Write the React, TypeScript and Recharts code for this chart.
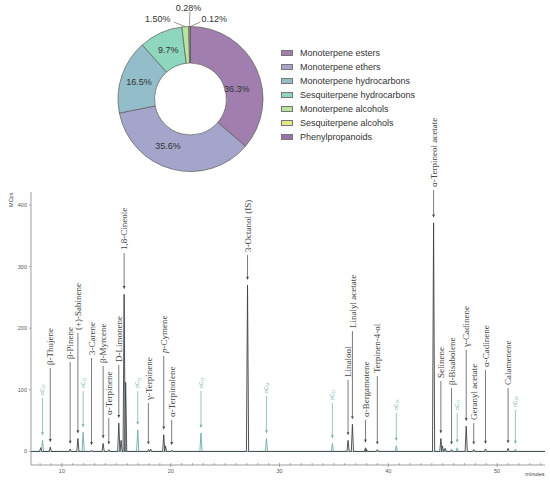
import React from 'react';
import { Cell, Legend, Line, LineChart, Pie, PieChart, ReferenceDot, XAxis, YAxis } from 'recharts';

document.body.style.margin = '0';

// compound classes (donut)
const classNames = [
  'Monoterpene esters',
  'Monoterpene ethers',
  'Monoterpene hydrocarbons',
  'Sesquiterpene hydrocarbons',
  'Monoterpene alcohols',
  'Sesquiterpene alcohols',
  'Phenylpropanoids',
];
const classShares = [36.3, 35.6, 16.5, 9.7, 1.5, 0.28, 0.12];
const classLabels = ['36.3%', '35.6%', '16.5%', '9.7%', '1.50%', '0.28%', '0.12%'];
const classColors = ['#a07fae', '#a5a5cc', '#94bdca', '#8ed6bd', '#b8e4a2', '#e4e68c', '#9a72a7'];

// chromatogram peaks (minutes, MCps)
const compoundNames = [
  'β-Thujene', 'β-Pinene', '(+)-Sabinene', '3-Carene', 'β-Myrcene', 'α-Terpinene', 'D-Limonene',
  '1,8-Cineole', 'γ-Terpinene', 'p-Cymene', 'α-Terpinolene', '3-Octanol (IS)', 'Linalool',
  'Linalyl acetate', 'α-Bergamotene', 'Terpinen-4-ol', 'α-Terpineol acetate', 'Selinene',
  'β-Bisabolene', 'γ-Cadinene', 'Geranyl acetate', 'α-Cadinene', 'Calamenene',
];
const compoundTimes = [
  8.93, 10.76, 11.47, 12.72, 13.79, 14.31, 15.23, 15.72, 17.95, 19.36, 20.09, 27.06, 36.3,
  36.7, 37.9, 38.99, 44.16, 44.83, 45.81, 47.16, 47.85, 48.93, 51.01,
];
const compoundHeights = [
  7, 4, 21, 2, 13, 3, 46, 255, 3, 27, 2, 270, 18, 44, 6, 3, 371, 21, 3, 41, 3, 4, 5,
];
const alkaneNames = ['nC10', 'nC11', 'nC12', 'nC13', 'nC14', 'nC15', 'nC16', 'nC17', 'nC18'];
const alkaneTimes = [8.22, 11.95, 16.97, 22.78, 28.8, 34.86, 40.73, 46.33, 51.68];
const alkaneHeights = [18, 31, 35, 30, 21, 13, 9, 6, 4];
const minorTimes = [8.05, 15.44, 15.86, 18.15, 19.52, 44.98, 45.22, 37.98];
const minorHeights = [6, 18, 112, 4, 9, 9, 5, 4];

const timeSpan = [7.16, 54.4];
const signalSpan = [-22, 421];
const signalTicks = [0, 100, 200, 300, 400];
const minuteMarks = Array.from({ length: 47 }, (_, i) => i + 8);

// layout
const chartTop = 110;
const halfWidth = 0.1;
const compoundLabelBase = [
  365, 359, 330, 355, 363, 415, 362, 250, 400, 353, 417, 252, 377, 328, 417, 373, 187, 378, 385,
  347, 420, 367, 385,
];
const alkaneLabelBase = [395, 388, 388, 388, 393, 400, 410, 410, 407];
const sliceNudge = [[-3, 12.6], [-8.7, -5], [0, 0], [0, 0]];
const callouts = [
  [-11, -4.5, -27.4, -7.5],
  [0.6, -14.5, -0.8, -19],
  [9.8, -4.3, 24, -7.2],
];

const RAD = Math.PI / 180;
const ink = '#444';
const teal = '#6aaea9';

const pieData = classNames.map((name, i) => ({ name, value: classShares[i] }));

const buildTrace = (times: number[], heights: number[]) => {
  const order = times.map((_, i) => i).sort((a, b) => times[a] - times[b]);
  const pts = [{ t: timeSpan[0], v: 0 }];
  order.forEach((i) => {
    pts.push({ t: times[i] - halfWidth, v: 0 }, { t: times[i], v: heights[i] }, { t: times[i] + halfWidth, v: 0 });
  });
  pts.push({ t: timeSpan[1], v: 0 });
  return pts;
};

const compoundTrace = buildTrace([...compoundTimes, ...minorTimes], [...compoundHeights, ...minorHeights]);
const alkaneTrace = buildTrace(alkaneTimes, alkaneHeights);

const renderSliceLabel = (p: any) => {
  const { cx, cy, midAngle, innerRadius, outerRadius, index } = p;
  const text = classLabels[index];
  const style = { fontSize: 9, fill: '#333', fontWeight: 400, fontFamily: 'Liberation Sans, Arial' };
  if (index < 4) {
    const r = (innerRadius + outerRadius) / 2;
    const x = cx + r * Math.cos(-midAngle * RAD) + sliceNudge[index][0];
    const y = cy + r * Math.sin(-midAngle * RAD) + sliceNudge[index][1];
    return (
      <text x={x} y={y} textAnchor="middle" dominantBaseline="central" stroke="none" {...style}>
        {text}
      </text>
    );
  }
  const ex = cx + outerRadius * Math.cos(-midAngle * RAD);
  const ey = cy + outerRadius * Math.sin(-midAngle * RAD);
  const c = callouts[index - 4];
  return (
    <g>
      <line x1={ex} y1={ey} x2={ex + c[0]} y2={ey + c[1]} stroke="#555" strokeWidth={0.6} />
      <text x={ex + c[2]} y={ey + c[3]} textAnchor="middle" dominantBaseline="central" stroke="none" {...style}>
        {text}
      </text>
    </g>
  );
};

const ClassLegend = () => (
  <div style={{ fontFamily: 'Liberation Sans, Arial', fontSize: 9, color: '#333' }}>
    {classNames.map((n, i) => (
      <div key={n} style={{ display: 'flex', alignItems: 'center', height: 13.9, whiteSpace: 'nowrap' }}>
        <span
          style={{
            display: 'inline-block',
            width: 10,
            height: 4,
            background: classColors[i],
            border: '0.7px solid #777',
            marginRight: 7,
          }}
        />
        {n}
      </div>
    ))}
  </div>
);

const compoundText = (name: string) =>
  name.startsWith('p-') ? (
    <>
      <tspan fontStyle="italic">p</tspan>
      {name.slice(1)}
    </>
  ) : (
    name
  );

const alkaneText = (name: string) => (
  <>
    <tspan fontStyle="italic">n</tspan>C
    <tspan fontSize={3.6} dy={1.2}>
      {name.slice(2)}
    </tspan>
  </>
);

const renderTag =
  (label: React.ReactNode, base: number, tint: string, size: number, family: string) => (p: any) => {
    const { cx, cy } = p;
    const tip = cy - 5;
    const by = base - chartTop;
    const ax = cx + size * 0.35;
    return (
      <g>
        <line x1={cx} x2={cx} y1={by + 3} y2={tip - 3} stroke={tint} strokeWidth={0.7} />
        <path d={`M${cx - 1.4},${tip - 3.2}L${cx + 1.4},${tip - 3.2}L${cx},${tip}Z`} fill={tint} />
        <text x={ax} y={by} transform={`rotate(-90 ${ax} ${by})`} fontSize={size} fontFamily={family} fill={tint}>
          {label}
        </text>
      </g>
    );
  };

const TimeTick = ({ x, y, payload }: any) => {
  const major = payload.value % 10 === 0;
  return (
    <g>
      <line x1={x} x2={x} y1={y - 2} y2={major ? y + 2 : y} stroke="#777" strokeWidth={0.6} />
      {major && (
        <text x={x} y={y + 8} textAnchor="middle" fontSize={5.5} fill="#555" fontFamily="Liberation Sans, Arial">
          {payload.value}
        </text>
      )}
    </g>
  );
};

const SignalTick = ({ x, y, payload }: any) => (
  <g>
    <line x1={x - 2} x2={x} y1={y} y2={y} stroke="#777" strokeWidth={0.6} />
    <text x={x - 4} y={y + 2} textAnchor="end" fontSize={5.5} fill="#555" fontFamily="Liberation Sans, Arial">
      {payload.value}
    </text>
  </g>
);

const smallText: React.CSSProperties = {
  position: 'absolute',
  fontFamily: 'Liberation Sans, Arial',
  fontSize: 5.5,
  lineHeight: 1,
  color: '#444',
  textAlign: 'center',
};

export default function App() {
  return (
    <div style={{ position: 'relative', width: 550, height: 482, background: '#fff', overflow: 'hidden' }}>
      <div style={{ position: 'absolute', left: 0, top: chartTop }}>
        <LineChart width={550} height={372} margin={{ top: 82, right: 5, bottom: 0, left: 0 }}>
          <XAxis
            dataKey="t"
            type="number"
            domain={timeSpan}
            ticks={minuteMarks}
            interval={0}
            tick={<TimeTick />}
            tickLine={false}
            tickSize={0}
            tickMargin={0}
            height={17}
            allowDataOverflow
            axisLine={{ stroke: '#777', strokeWidth: 0.7 }}
          />
          <YAxis
            type="number"
            domain={signalSpan}
            ticks={signalTicks}
            interval={0}
            tick={<SignalTick />}
            tickLine={false}
            tickSize={0}
            tickMargin={0}
            width={31}
            allowDataOverflow
            axisLine={{ stroke: '#777', strokeWidth: 0.7 }}
          />
          <Line
            data={alkaneTrace}
            dataKey="v"
            type="linear"
            stroke={teal}
            strokeWidth={0.9}
            dot={false}
            isAnimationActive={false}
          />
          <Line
            data={compoundTrace}
            dataKey="v"
            type="linear"
            stroke="#3c4143"
            strokeWidth={0.9}
            dot={false}
            isAnimationActive={false}
          />
          {alkaneNames.map((n, i) => (
            <ReferenceDot
              key={n}
              x={alkaneTimes[i]}
              y={alkaneHeights[i]}
              r={0}
              ifOverflow="visible"
              shape={renderTag(alkaneText(n), alkaneLabelBase[i], teal, 5, 'Liberation Sans, Arial')}
            />
          ))}
          {compoundNames.map((n, i) => (
            <ReferenceDot
              key={n}
              x={compoundTimes[i]}
              y={compoundHeights[i]}
              r={0}
              ifOverflow="visible"
              shape={renderTag(compoundText(n), compoundLabelBase[i], ink, 9, 'Liberation Serif, serif')}
            />
          ))}
        </LineChart>
      </div>
      <div style={{ position: 'absolute', left: 0, top: 0 }}>
        <PieChart width={550} height={180} margin={{ top: 0, right: 0, bottom: 0, left: 0 }}>
          <Pie
            data={pieData}
            dataKey="value"
            nameKey="name"
            cx={190.5}
            cy={99}
            innerRadius={36}
            outerRadius={72.5}
            startAngle={90}
            endAngle={-270}
            stroke="#5a5a5a"
            strokeWidth={0.7}
            label={renderSliceLabel}
            labelLine={false}
            isAnimationActive={false}
          >
            {pieData.map((d, i) => (
              <Cell key={d.name} fill={classColors[i]} />
            ))}
          </Pie>
          <Legend
            layout="vertical"
            align="right"
            verticalAlign="top"
            content={<ClassLegend />}
            wrapperStyle={{ left: 281, top: 46.5, width: 220 }}
          />
        </PieChart>
      </div>
      <div style={{ ...smallText, left: 2, top: 197, width: 20, transform: 'rotate(-90deg)' }}>MCps</div>
      <div style={{ ...smallText, left: 520, top: 472, width: 30 }}>minutes</div>
    </div>
  );
}
